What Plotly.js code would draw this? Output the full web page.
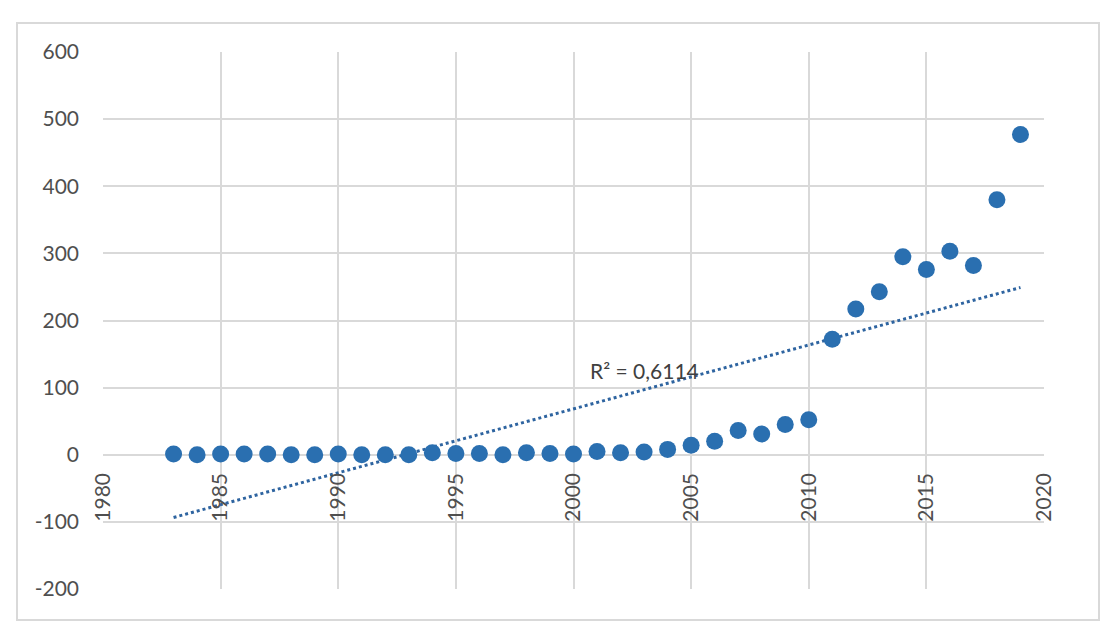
<!DOCTYPE html>
<html>
<head>
<meta charset="utf-8">
<script src="https://cdn.plot.ly/plotly-3.0.1.min.js"></script>
<style>
html,body{margin:0;padding:0;background:#fff;}
#chart{width:1110px;height:634px;}
</style>
</head>
<body>
<div id="chart"></div>
<script>
const years = [1983,1984,1985,1986,1987,1988,1989,1990,1991,1992,1993,1994,1995,1996,1997,1998,1999,2000,2001,2002,2003,2004,2005,2006,2007,2008,2009,2010,2011,2012,2013,2014,2015,2016,2017,2018,2019];
const values = [1,0,1,1,1,0,0,1,0,0,0,3,2,2,0,3,2,1,5,3,4,8,14,20,36,31,45,52,172,217,243,295,276,303,282,380,477];
const xTicks = [1980,1985,1990,1995,2000,2005,2010,2015,2020];
const yTicks = [-200,-100,0,100,200,300,400,500,600];
const r2Label = "R² = 0,6114";

// least-squares linear trendline computed from the data
const n = years.length;
const mx = years.reduce((a,b)=>a+b,0)/n;
const my = values.reduce((a,b)=>a+b,0)/n;
let sxy=0, sxx=0;
for (let i=0;i<n;i++){ sxy+=(years[i]-mx)*(values[i]-my); sxx+=(years[i]-mx)*(years[i]-mx); }
const slope = sxy/sxx, intercept = my - slope*mx;
const trendX = [years[0], years[n-1]];
const trendY = trendX.map(x => intercept + slope*x);

const font = "Lato, 'Open Sans', 'Liberation Sans', sans-serif";

const traces = [
  {x: trendX, y: trendY, mode:'lines', type:'scatter',
   line:{color:'#2E64A0', width:3, dash:'dot'}, hoverinfo:'skip'},
  {x: years, y: values, mode:'markers', type:'scatter',
   marker:{color:'#2A6FB0', size:17}}
];

const layout = {
  width:1110, height:634,
  margin:{l:103, r:66, t:52, b:45},
  paper_bgcolor:'#ffffff', plot_bgcolor:'#ffffff',
  showlegend:false,
  font:{family:font, size:21, color:'#595959'},
  xaxis:{range:[1980,2020], tickvals:xTicks, ticktext:xTicks.map(String),
         tickangle:-90, showgrid:true, gridcolor:'#D9D9D9', gridwidth:2,
         zeroline:false, showline:false, ticks:'', anchor:'free', position:0.25,
         ticklabelstandoff:13, tickfont:{family:font, size:21, color:'#4F4F4F'}},
  yaxis:{range:[-200,600], tickvals:yTicks, ticktext:yTicks.map(String),
         showgrid:true, gridcolor:'#D9D9D9', gridwidth:2,
         zeroline:false, showline:false, ticks:'', ticklabelstandoff:23,
         tickfont:{family:font, size:21, color:'#4F4F4F'}},
  annotations:[{x:2003.0, y:125, xref:'x', yref:'y', text:r2Label, showarrow:false,
    font:{family:font, size:21, color:'#404040'}}],
  shapes:[
    {type:'rect', xref:'paper', yref:'paper',
     x0:(17-103)/941, x1:(1099-103)/941, y0:-(620-589)/537, y1:1+(52-23)/537,
     line:{color:'#D9D9D9', width:2}, fillcolor:'rgba(0,0,0,0)', layer:'below'}
  ]
};

Plotly.newPlot('chart', traces, layout, {displayModeBar:false, staticPlot:true});
</script>
</body>
</html>
